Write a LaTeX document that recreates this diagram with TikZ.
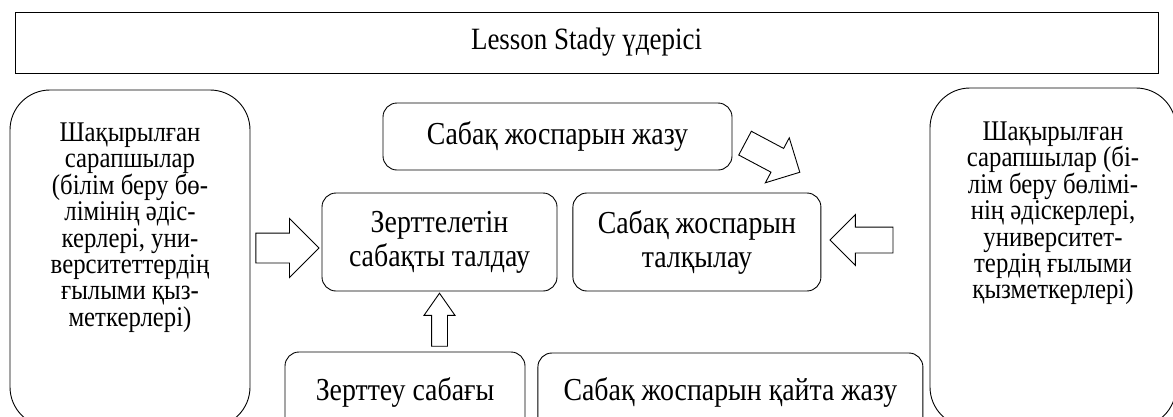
\documentclass[tikz,border=0pt]{standalone}
\usepackage{fontspec}
\setmainfont[FakeStretch=0.87]{Liberation Serif}
\usetikzlibrary{positioning,shapes.arrows}
\newcommand\tightlines{\lineskiplimit=-20pt\relax}

\tikzset{
  stepbox/.style={draw, rounded corners=14pt, line width=0.9pt, align=center,
    inner sep=0pt, font=\fontsize{32}{34}\selectfont\tightlines},
  bigbox/.style={draw, rounded corners=40pt, line width=0.9pt, inner sep=0pt},
  bigtext/.style={align=center, inner sep=0pt,
    font=\fontsize{28.5}{26.4}\selectfont\tightlines},
  blockarrow/.style={draw, single arrow, line width=0.9pt, inner xsep=0pt,
    single arrow head indent=0pt, anchor=tip}
}

\begin{document}
\begin{tikzpicture}[x=1pt,y=-1pt]
    \useasboundingbox (0,0) rectangle (1173,416);
    \clip (0,0) rectangle (1173,416);
    % title
    \node[draw, line width=0.9pt, minimum width=1143pt, minimum height=61pt, inner sep=0pt,
          font=\fontsize{31}{31}\selectfont] (title) at (586.5,42.5) {Lesson Stady үдерісі};
    % the steps
    \node[stepbox, minimum width=235pt, minimum height=98pt] (talday) at (439.5,242)
        {Зерттелетін\\сабақты талдау};
    \node[stepbox, minimum width=248pt, minimum height=98pt, right=15pt of talday] (talqylau)
        {Сабақ жоспарын\\талқылау};
    \node[stepbox, minimum width=349pt, minimum height=67pt] (zhazu) at (557.5,136.5)
        {Сабақ жоспарын жазу};
    \node[stepbox, minimum width=240pt, minimum height=80pt] (zerttey) at (405,392)
        {Зерттеу сабағы};
    \node[stepbox, minimum width=385pt, minimum height=78pt, right=12pt of zerttey] (qaita)
        {Сабақ жоспарын қайта жазу};
    % experts
    \node[bigbox, minimum width=240pt, minimum height=337pt] (leftbox) at (130,258.5) {};
    \node[bigtext, below=33pt of leftbox.north] (lefttext)
        {Шақырылған\\сарапшылар\\(білім беру бө-\\лімінің әдіс-\\керлері, уни-\\верситеттердің\\ғылыми қыз-\\меткерлері)};
    \node[bigbox, minimum width=246pt, minimum height=339pt] (rightbox) at (1053,257.5) {};
    \node[bigtext, below=34pt of rightbox.north] (righttext)
        {Шақырылған\\сарапшылар (бі-\\лім беру бөлімі-\\нің әдіскерлері,\\университет-\\тердің ғылыми\\қызметкерлері)};
    % arrows
    \node[blockarrow, minimum height=63pt, inner ysep=14.5pt, single arrow head extend=14.5pt]
        (arrleft) at ([xshift=-2pt,yshift=-6pt]talday.west) {};
    \node[blockarrow, rotate=180, minimum height=63pt, inner ysep=12.5pt, single arrow head extend=12.5pt]
        (arrright) at ([xshift=8pt,yshift=2pt]talqylau.east) {};
    \node[blockarrow, rotate=90, minimum height=53pt, inner ysep=7.5pt, single arrow head extend=7.5pt,
          single arrow tip angle=70] (arrup) at ([yshift=-1pt]talday.south) {};
    \node[blockarrow, rotate=-28, minimum height=62pt, inner ysep=13pt, single arrow head extend=12pt]
        (arrdiag) at ([xshift=-21pt,yshift=20pt]talqylau.north east) {};
\end{tikzpicture}
\end{document}
